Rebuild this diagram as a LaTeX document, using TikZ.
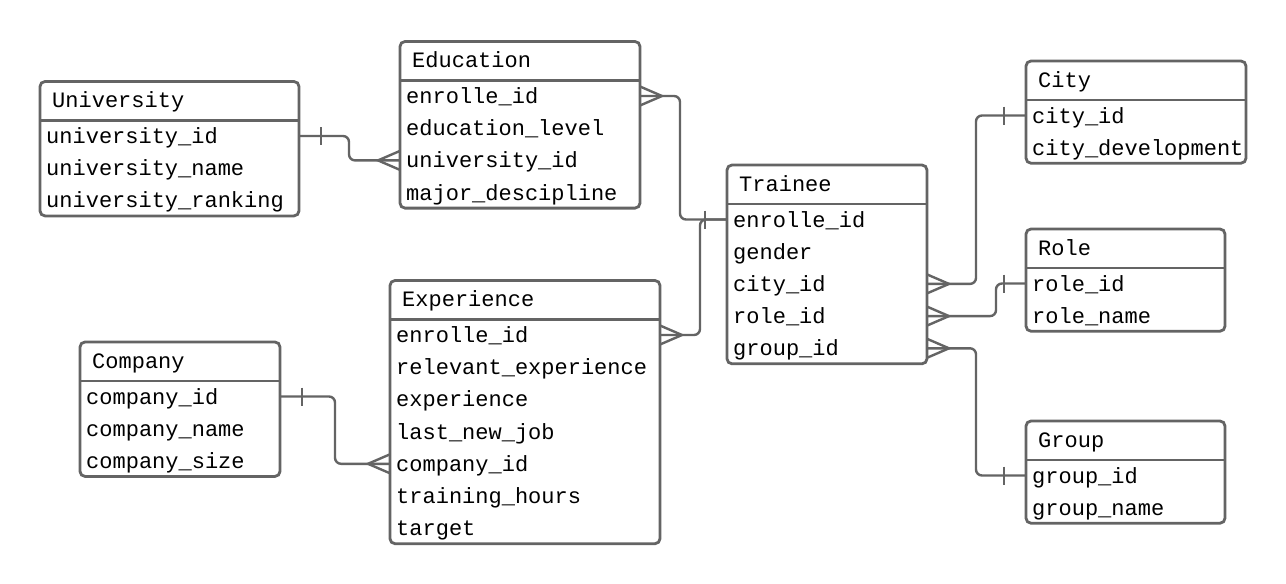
\documentclass[tikz,border=0pt]{standalone}
\usepackage{fontspec}
\newfontfamily\ermono{Liberation Mono}
\usetikzlibrary{calc}
\definecolor{ergray}{RGB}{100,100,100}
\tikzset{
  entbox/.style={draw=ergray, line width=2.8pt, rounded corners=5pt, inner sep=0pt, outer sep=0pt, fill=white},
  sepline/.style={draw=ergray, line width=2.8pt},
  ertitle/.style={font=\ermono\fontsize{22}{26}\selectfont, inner sep=0pt, text=black},
  erfield/.style={font=\ermono\fontsize{22}{26}\selectfont, inner sep=0pt, text height=17.5pt, text depth=2.5pt, text=black},
  conn/.style={draw=ergray, line width=2.4pt, rounded corners=6pt},
  ermark/.style={draw=ergray, line width=2.4pt},
  crowR/.pic={\draw[ermark] (0,-9.5) -- (22,0) -- (0,9.5);},
  crowL/.pic={\draw[ermark] (0,-9.5) -- (-22,0) -- (0,9.5);},
  onebar/.pic={\draw[ermark] (0,-9) -- (0,9);}
}
% #1 name, #2 left, #3 right, #4 header y, #5 rows, #6 title, #7 fields
\newcommand\erentity[7]{%
  \pgfmathsetmacro\etop{#4-39}%
  \pgfmathsetmacro\ebot{#4+31+32.2*(#5-1)}%
  \pgfmathsetmacro\ew{#3-#2}%
  \pgfmathsetmacro\eh{\ebot-\etop}%
  \node[entbox, minimum width=\ew pt, minimum height=\eh pt, anchor=north west] (#1) at (#2,\etop) {};
  \coordinate (#1-h) at (#2,#4);
  \draw[sepline] (#1.west |- #1-h) -- (#1.east |- #1-h);
  \node[ertitle, anchor=base west] (#1-t) at (#2+12,#4-13) {#6};
  \foreach \f [count=\i] in {#7} {
    \node[erfield, anchor=west] (#1-\i) at (#2+6,#4+15.5+32.2*\i-32.2) {\f};
  }
}
\begin{document}
\begin{tikzpicture}[x=1pt,y=-1pt]
\fill[white] (0,0) rectangle (1286,584);
\useasboundingbox (0,0) rectangle (1286,584);

\erentity{uni}{40}{299}{120.5}{3}{University}{university\_id,university\_name,university\_ranking}
\erentity{edu}{400}{640}{80.5}{4}{Education}{enrolle\_id,education\_level,university\_id,major\_descipline}
\erentity{city}{1026}{1246}{100}{2}{City}{city\_id,city\_development}
\erentity{tr}{727}{927}{204}{5}{Trainee}{enrolle\_id,gender,city\_id,role\_id,group\_id}
\erentity{role}{1026}{1225}{268}{2}{Role}{role\_id,role\_name}
\erentity{exp}{390}{660}{319.5}{7}{Experience}{enrolle\_id,relevant\_experience,experience,last\_new\_job,company\_id,training\_hours,target}
\erentity{comp}{80}{280}{381}{3}{Company}{company\_id,company\_name,company\_size}
\erentity{grp}{1026}{1225}{460}{2}{Group}{group\_id,group\_name}

% bend columns
\coordinate (k1) at (349,0);
\coordinate (k2) at (680,0);
\coordinate (k3) at (700,0);
\coordinate (k4) at (976,0);
\coordinate (k5) at (996,0);
\coordinate (k7) at (335,0);

% University - Education
\draw[conn] (uni.east |- uni-1) -- (k1 |- uni-1) -- (k1 |- edu-3) -- (edu.west |- edu-3);
\pic at ($(uni.east |- uni-1)+(22,0)$) {onebar};
\pic at (edu.west |- edu-3) {crowL};

% Education - Trainee
\draw[conn] (edu.east |- edu-1) -- (k2 |- edu-1) -- (k2 |- tr-1) -- (tr.west |- tr-1);
\pic at (edu.east |- edu-1) {crowR};
\pic at ($(tr.west |- tr-1)+(-22,0)$) {onebar};

% Experience - Trainee
\draw[conn] (exp.east |- exp-1) -- (k3 |- exp-1) -- (k3 |- tr-1) -- (tr.west |- tr-1);
\pic at (exp.east |- exp-1) {crowR};

% Trainee - City
\draw[conn] (tr.east |- tr-3) -- (k4 |- tr-3) -- (k4 |- city-1) -- (city.west |- city-1);
\pic at (tr.east |- tr-3) {crowR};
\pic at ($(city.west |- city-1)+(-22,0)$) {onebar};

% Trainee - Role
\draw[conn] (tr.east |- tr-4) -- (k5 |- tr-4) -- (k5 |- role-1) -- (role.west |- role-1);
\pic at (tr.east |- tr-4) {crowR};
\pic at ($(role.west |- role-1)+(-22,0)$) {onebar};

% Trainee - Group
\draw[conn] (tr.east |- tr-5) -- (k4 |- tr-5) -- (k4 |- grp-1) -- (grp.west |- grp-1);
\pic at (tr.east |- tr-5) {crowR};
\pic at ($(grp.west |- grp-1)+(-22,0)$) {onebar};

% Company - Experience
\draw[conn] (comp.east |- comp-1) -- (k7 |- comp-1) -- (k7 |- exp-5) -- (exp.west |- exp-5);
\pic at ($(comp.east |- comp-1)+(22,0)$) {onebar};
\pic at (exp.west |- exp-5) {crowL};
\end{tikzpicture}
\end{document}
